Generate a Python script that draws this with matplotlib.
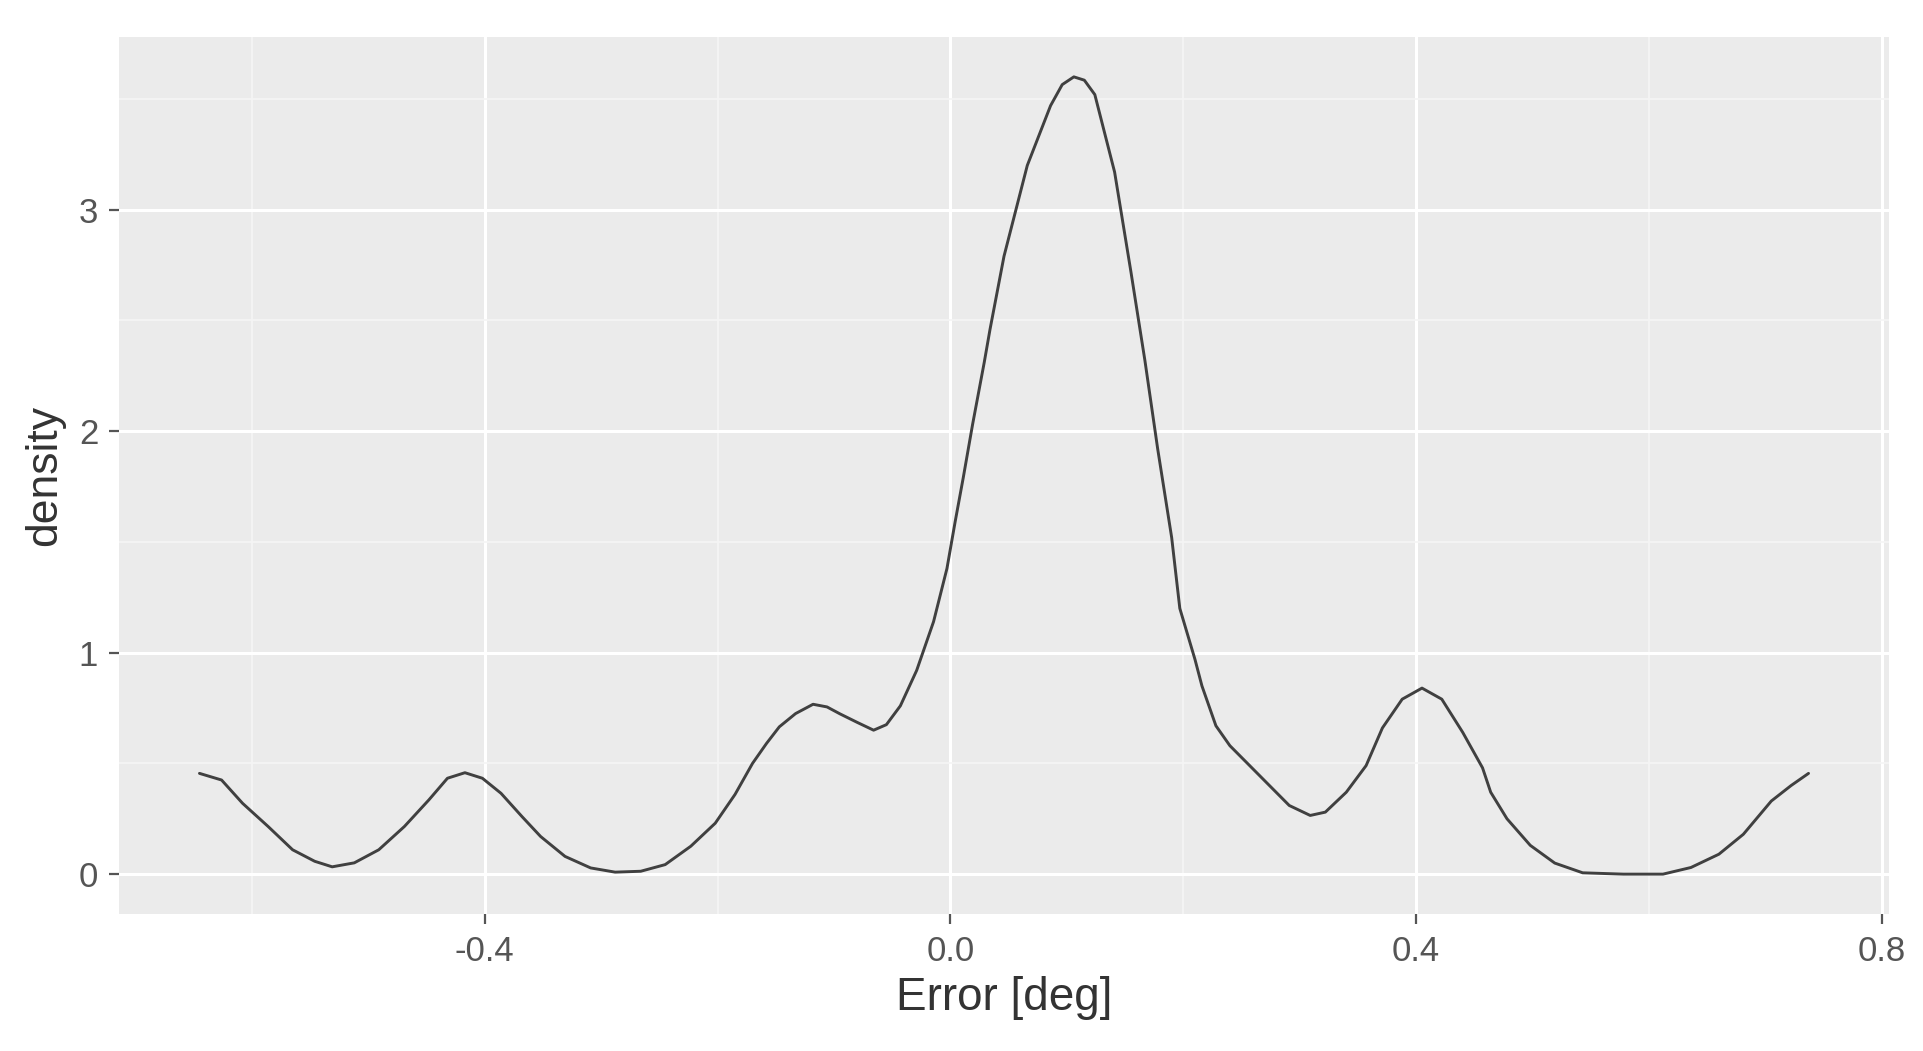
import matplotlib
matplotlib.use("Agg")
import matplotlib.pyplot as plt
from matplotlib.ticker import FixedLocator

plt.rcParams['font.family'] = ['Liberation Sans', 'DejaVu Sans']

# Density curve (Error [deg] vs density)
error_deg = [-0.645, -0.626, -0.608, -0.586, -0.565, -0.546, -0.531, -0.512, -0.491, -0.469,
             -0.448, -0.432, -0.417, -0.402, -0.386, -0.368, -0.352, -0.331, -0.309, -0.288,
             -0.266, -0.245, -0.223, -0.202, -0.185, -0.170, -0.158, -0.147, -0.133, -0.118,
             -0.106, -0.095, -0.080, -0.066, -0.055, -0.043, -0.029, -0.0145, -0.003, 0.004,
             0.011, 0.019, 0.029, 0.034, 0.046, 0.066, 0.086, 0.096, 0.106, 0.115,
             0.124, 0.141, 0.155, 0.167, 0.178, 0.190, 0.197, 0.210, 0.216, 0.228,
             0.240, 0.257, 0.274, 0.291, 0.309, 0.322, 0.340, 0.357, 0.371, 0.388,
             0.405, 0.422, 0.440, 0.457, 0.464, 0.478, 0.498, 0.519, 0.543, 0.578,
             0.612, 0.636, 0.660, 0.681, 0.705, 0.722, 0.737]
density = [0.455, 0.425, 0.320, 0.215, 0.110, 0.058, 0.033, 0.051, 0.110, 0.215,
           0.335, 0.433, 0.458, 0.433, 0.365, 0.260, 0.170, 0.080, 0.028, 0.009,
           0.013, 0.043, 0.126, 0.230, 0.360, 0.500, 0.590, 0.665, 0.725, 0.767,
           0.755, 0.724, 0.685, 0.650, 0.675, 0.760, 0.920, 1.140, 1.380, 1.590,
           1.790, 2.030, 2.310, 2.460, 2.790, 3.200, 3.470, 3.565, 3.600, 3.585,
           3.520, 3.170, 2.720, 2.320, 1.920, 1.520, 1.200, 0.970, 0.850, 0.670,
           0.580, 0.490, 0.400, 0.310, 0.265, 0.280, 0.370, 0.490, 0.660, 0.790,
           0.840, 0.790, 0.640, 0.480, 0.370, 0.250, 0.130, 0.050, 0.006, 0.000,
           0.000, 0.030, 0.090, 0.180, 0.330, 0.400, 0.455]

x_ticks = [-0.4, 0.0, 0.4, 0.8]
x_tick_labels = ['-0.4', '0.0', '0.4', '0.8']
y_ticks = [0, 1, 2, 3]
y_tick_labels = ['0', '1', '2', '3']

W, H = 1923, 1051
fig = plt.figure(figsize=(W / 100, H / 100), dpi=100)
ax = fig.add_axes([119 / W, 1 - 914 / H, (1889 - 119) / W, (914 - 37) / H])
ax.set_facecolor('#EBEBEB')

ax.plot(error_deg, density, color='#404040', lw=2.1, solid_joinstyle='round',
        solid_capstyle='round', zorder=3)

xr = max(error_deg) - min(error_deg)
ax.set_xlim(min(error_deg) - 0.05 * xr, max(error_deg) + 0.05 * xr)
yr = max(density) - 0
ax.set_ylim(-0.05 * yr, max(density) + 0.05 * yr)

ax.xaxis.set_major_locator(FixedLocator(x_ticks))
ax.set_xticklabels(x_tick_labels)
ax.yaxis.set_major_locator(FixedLocator(y_ticks))
ax.set_yticklabels(y_tick_labels)
ax.xaxis.set_minor_locator(FixedLocator([-0.6, -0.2, 0.2, 0.6]))
ax.yaxis.set_minor_locator(FixedLocator([0.5, 1.5, 2.5, 3.5]))

ax.grid(which='major', color='white', lw=2.2, zorder=0)
ax.grid(which='minor', color='#F5F5F5', lw=1.2, zorder=0)
ax.set_axisbelow(True)

for s in ax.spines.values():
    s.set_visible(False)

ax.tick_params(which='major', length=7, width=1.6, color='#555555',
               labelcolor='#555555', labelsize=25, pad=8)
ax.tick_params(which='minor', length=0)

ax.set_xlabel('Error [deg]', fontsize=33, color='#333333', labelpad=6)
ax.set_ylabel('density', fontsize=32, color='#333333', labelpad=10)

fig.savefig('out.png', dpi=100, facecolor='white')
